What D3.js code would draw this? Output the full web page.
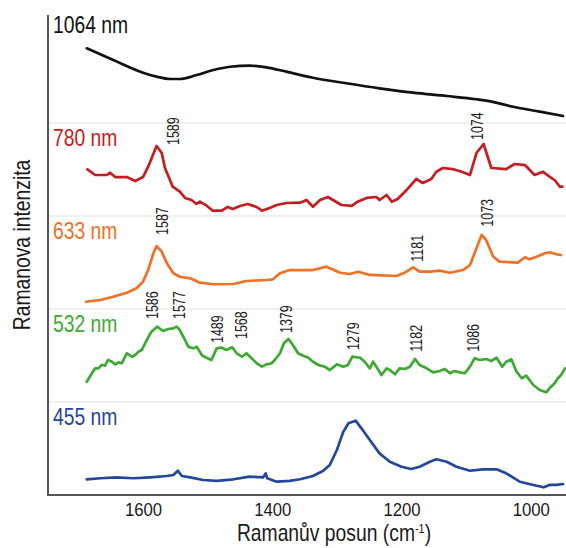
<!DOCTYPE html>
<html>
<head>
<meta charset="utf-8">
<script src="https://cdn.jsdelivr.net/npm/d3@7"></script>
<style>
  html, body { margin: 0; padding: 0; background: #fff; }
  svg { display: block; }
  text { font-family: "Liberation Sans", Arial, sans-serif; }
</style>
</head>
<body>
<svg id="chart" width="566" height="548"></svg>
<script>
// Excitation wavelengths, one stacked panel each (top to bottom)
const lasers = ["1064 nm", "780 nm", "633 nm", "532 nm", "455 nm"];
const laserColors = ["#111111", "#c41e22", "#f07024", "#3caa32", "#24469b"];

// Raman shift axis ticks (cm-1)
const shiftTicks = [1600, 1400, 1200, 1000];

// Spectra: [Raman shift (cm-1), relative intensity within the panel (0-100)]
const spectrum1064 = [
  [1687,80.3],[1646,67.7],[1600,54.1],[1579,49.8],[1558,47.3],[1543,47.3],[1517,51.6],
  [1491,57.0],[1465,60.5],[1435,61.6],[1409,59.9],[1378,55.2],[1337,48.7],[1285,42.7],
  [1234,37.3],[1182,32.6],[1130,29.0],[1084,25.5],[1069,24.0],[1027,17.5],[986,12.2],[950,7.5]
];
const spectrum780 = [
  [1686,50.2],[1674,44.1],[1656,44.1],[1651,46.6],[1643,41.9],[1625,41.9],[1612,37.6],
  [1600,41.9],[1592,53.0],[1579,75.3],[1571,67.7],[1566,51.6],[1554,31.5],[1543,26.1],
  [1535,19.4],[1525,17.2],[1517,12.9],[1512,15.4],[1501,10.8],[1492,5.7],[1478,5.7],
  [1469,9.7],[1461,7.5],[1450,10.8],[1438,12.9],[1424,9.7],[1416,5.7],[1404,8.6],
  [1393,11.8],[1378,14.0],[1357,14.3],[1347,17.2],[1337,10.0],[1326,17.2],[1314,20.4],
  [1306,17.2],[1293,11.8],[1277,10.8],[1268,15.4],[1254,19.4],[1239,20.4],[1234,17.2],
  [1223,22.6],[1215,15.4],[1206,18.3],[1192,28.0],[1177,39.8],[1167,35.5],[1154,39.8],
  [1146,47.6],[1136,51.6],[1121,50.5],[1107,47.6],[1094,44.1],[1084,67.7],[1073,77.4],
  [1061,51.6],[1038,50.5],[1025,55.9],[1009,54.8],[994,44.1],[981,47.6],[971,42.3],
  [963,38.7],[955,31.5],[951,31.5]
];
const spectrum633 = [
  [1688,7.8],[1666,9.7],[1646,13.2],[1625,17.5],[1610,22.3],[1600,29.4],[1592,41.9],
  [1584,59.9],[1579,67.7],[1571,61.6],[1563,49.1],[1553,38.4],[1543,34.7],[1527,33.0],
  [1512,28.3],[1491,26.6],[1460,26.9],[1440,30.1],[1409,31.2],[1399,31.9],[1388,38.4],
  [1373,41.9],[1357,41.9],[1337,41.9],[1316,45.5],[1295,39.0],[1280,37.6],[1267,40.1],
  [1249,36.6],[1208,35.5],[1195,39.0],[1182,44.8],[1172,40.1],[1156,40.1],[1141,41.2],
  [1125,39.0],[1105,41.9],[1094,47.3],[1084,65.3],[1076,79.6],[1069,74.2],[1058,56.2],
  [1048,50.9],[1020,49.8],[1009,55.6],[1002,53.4],[991,56.2],[978,59.9],[971,61.0],
  [960,58.8],[953,58.1]
];
const spectrum532 = [
  [1687,21.8],[1679,30.9],[1674,36.2],[1669,36.2],[1664,39.8],[1659,39.0],[1654,45.2],
  [1648,43.3],[1643,40.5],[1638,42.7],[1633,41.6],[1625,52.4],[1617,48.7],[1612,50.5],
  [1607,54.1],[1602,55.9],[1594,66.7],[1587,75.6],[1578,81.0],[1569,76.3],[1561,78.5],
  [1553,79.2],[1548,81.0],[1543,77.4],[1535,66.7],[1530,59.5],[1522,57.7],[1517,59.5],
  [1509,50.5],[1502,47.6],[1494,45.2],[1486,57.7],[1478,58.4],[1471,55.9],[1462,58.8],
  [1455,52.4],[1447,48.7],[1440,52.4],[1432,47.0],[1424,41.6],[1416,38.0],[1409,40.5],
  [1401,41.6],[1396,45.2],[1388,52.4],[1382,63.1],[1375,67.7],[1368,61.3],[1360,52.4],
  [1352,49.8],[1344,47.6],[1337,43.3],[1329,39.8],[1319,38.0],[1311,34.4],[1300,40.5],
  [1290,38.0],[1283,39.8],[1276,48.7],[1264,47.6],[1257,43.3],[1249,36.2],[1244,43.3],
  [1239,38.0],[1231,29.0],[1223,36.2],[1218,34.4],[1210,29.8],[1203,36.2],[1195,35.5],
  [1187,38.0],[1179,46.2],[1172,39.8],[1161,36.2],[1151,31.9],[1141,33.3],[1133,35.5],
  [1125,30.9],[1118,33.3],[1110,31.9],[1102,30.9],[1094,38.0],[1087,47.0],[1079,45.2],
  [1069,46.2],[1061,44.1],[1053,47.6],[1044,38.0],[1038,43.3],[1030,45.9],[1022,32.6],
  [1014,25.5],[1007,28.3],[996,18.3],[986,12.9],[976,10.4],[971,14.7],[963,20.1],
  [958,25.5],[953,29.0],[947,36.2]
];
const spectrum455 = [
  [1687,16.9],[1666,18.0],[1641,19.0],[1615,18.0],[1589,19.0],[1563,20.4],[1553,21.5],
  [1546,26.1],[1540,20.4],[1527,19.0],[1507,16.1],[1486,15.1],[1460,16.9],[1435,19.7],
  [1414,19.0],[1410,23.3],[1408,18.0],[1393,14.3],[1373,15.1],[1357,16.9],[1337,20.4],
  [1321,26.1],[1311,32.3],[1300,48.4],[1290,68.1],[1282,77.1],[1271,79.9],[1262,71.7],
  [1249,59.1],[1234,44.8],[1218,35.8],[1200,30.4],[1185,28.0],[1172,30.4],[1156,35.8],
  [1146,38.4],[1130,35.8],[1115,30.4],[1094,26.1],[1074,27.6],[1053,27.6],[1038,23.3],
  [1017,14.3],[996,10.8],[980,8.3],[971,10.8],[960,10.8],[950,11.8]
];
const spectra = [spectrum1064, spectrum780, spectrum633, spectrum532, spectrum455];

// Peak annotations per panel: [label, shift where the label sits (cm-1), label base level]
const peaks780 = [["1589",1553,76.3],["1074",1083,81.7]];
const peaks633 = [["1587",1570,79.6],["1181",1176,50.9],["1073",1067,88.5]];
const peaks532 = [["1586",1585,89.2],["1577",1544,89.2],["1489",1485,63.4],["1568",1448,67.7],
                  ["1379",1379,74.2],["1279",1275,55.9],["1182",1177,54.1],["1086",1089,54.1]];
const peaks = [[], peaks780, peaks633, peaks532, []];

const svg = d3.select("#chart");
const plot = { left: 48, right: 565, top: 15, bottom: 495, panelTop: 30 };
// Condensed lettering: glyphs squeezed along the reading direction
const narrow = 0.84;

const x = d3.scaleLinear().domain([1747, 947]).range([plot.left, plot.right]);
const band = d3.scaleBand().domain(lasers).range([plot.panelTop, plot.bottom]).padding(0);
const level = d3.scaleLinear().domain([0, 100]).range([band.bandwidth(), 0]);

// Panel separators
svg.append("g").selectAll("line")
  .data(lasers.slice(1))
  .join("line")
  .attr("x1", plot.left + 1).attr("x2", plot.right + 1)
  .attr("y1", d => band(d)).attr("y2", d => band(d))
  .attr("stroke", "#f0f0f0").attr("stroke-width", 2);

// Spectra
lasers.forEach((name, i) => {
  const g = svg.append("g").attr("transform", `translate(0,${band(name)})`);
  const line = d3.line()
    .x(d => x(d[0]))
    .y(d => level(d[1]))
    .curve(i === 0 ? d3.curveMonotoneX : d3.curveLinear);
  g.append("path")
    .datum(spectra[i])
    .attr("fill", "none")
    .attr("stroke", laserColors[i])
    .attr("stroke-width", 2.7)
    .attr("stroke-linejoin", "round")
    .attr("stroke-linecap", "round")
    .attr("d", line);

  // Wavelength label
  const ly = i === 0 ? plot.top + 18 - band(name) : 23;
  g.append("text")
    .attr("transform", `translate(53,${ly}) scale(${narrow},1)`)
    .attr("fill", laserColors[i])
    .attr("font-size", 23)
    .text(name);

  // Peak labels, rotated
  g.selectAll("text.peak")
    .data(peaks[i])
    .join("text")
    .attr("class", "peak")
    .attr("transform", d => `translate(${x(d[1])},${level(d[2])}) rotate(-90) scale(0.78,1)`)
    .attr("dy", "0.36em")
    .attr("font-size", 16)
    .attr("fill", "#1a1a1a")
    .text(d => d[0]);
});

// Axes
const xAxis = d3.axisBottom(x).tickValues(shiftTicks).tickSize(0).tickFormat(d3.format("d"));
const gx = svg.append("g").attr("transform", `translate(0,${plot.bottom})`).call(xAxis);
gx.select(".domain").remove();
gx.selectAll("text")
  .attr("y", 0).attr("dy", 0)
  .attr("transform", "translate(0,21) scale(0.88,1)")
  .attr("font-size", 19)
  .attr("fill", "#1a1a1a")
  .style("font-family", null);
gx.attr("font-family", null);

svg.append("line")
  .attr("x1", plot.left).attr("x2", 566)
  .attr("y1", plot.bottom).attr("y2", plot.bottom)
  .attr("stroke", "#555").attr("stroke-width", 2);
svg.append("line")
  .attr("x1", plot.left).attr("x2", plot.left)
  .attr("y1", plot.top).attr("y2", plot.bottom + 1)
  .attr("stroke", "#555").attr("stroke-width", 2);

// Axis titles
const xt = svg.append("text")
  .attr("transform", `translate(334,541) scale(${narrow},1)`)
  .attr("text-anchor", "middle")
  .attr("font-size", 23)
  .attr("fill", "#1a1a1a");
xt.append("tspan").text("Ramanův posun (cm");
xt.append("tspan").attr("font-size", 13).attr("dy", -8).text("-1");
xt.append("tspan").attr("dy", 8).text(")");

svg.append("text")
  .attr("transform", `translate(30,245) rotate(-90) scale(${narrow},1)`)
  .attr("text-anchor", "middle")
  .attr("font-size", 23)
  .attr("fill", "#1a1a1a")
  .text("Ramanova intenzita");
</script>
</body>
</html>
